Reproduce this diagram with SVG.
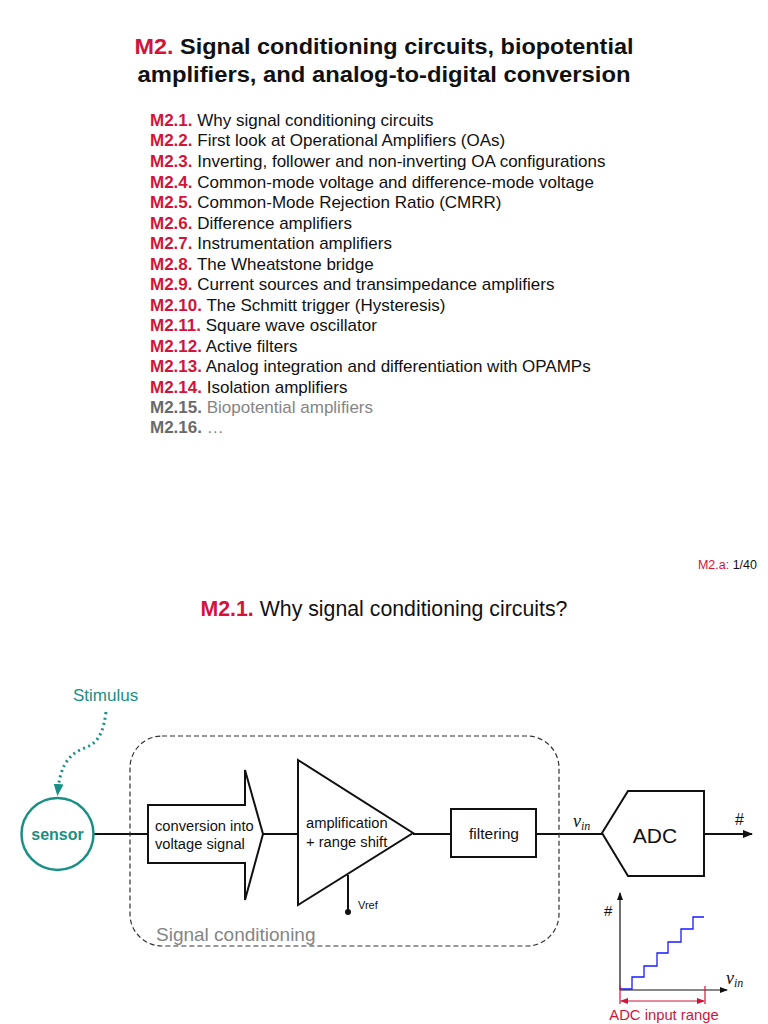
<svg xmlns="http://www.w3.org/2000/svg" width="768" height="1024" viewBox="0 0 768 1024">
<style>
text{font-family:"Liberation Sans",Arial,sans-serif;fill:#111}
.r{fill:#d2143a}
.g{fill:#858585}
.t{fill:#1a8f86}
.li{font-size:17px}
.b{font-weight:bold}
.sh{fill:#fff;stroke:#111;stroke-width:2}
.ln{stroke:#111;stroke-width:2;fill:none}
.vi{font-family:"Liberation Serif","Times New Roman",serif;font-style:italic}
</style>
<defs>
<marker id="ah" markerWidth="10" markerHeight="10" refX="9" refY="5" orient="auto" markerUnits="userSpaceOnUse"><path d="M0,1 L10,5 L0,9 Z" fill="#111"/></marker>
<marker id="ahs" markerWidth="8" markerHeight="8" refX="7" refY="4" orient="auto" markerUnits="userSpaceOnUse"><path d="M0,1 L8,4 L0,7 Z" fill="#111"/></marker>
<marker id="aht" markerWidth="12" markerHeight="12" refX="6" refY="6" orient="auto" markerUnits="userSpaceOnUse"><path d="M0,1 L12,6 L0,11 Z" fill="#1a8f86"/></marker>
<marker id="ahr" markerWidth="8" markerHeight="8" refX="7" refY="4" orient="auto-start-reverse" markerUnits="userSpaceOnUse"><path d="M0,1 L8,4 L0,7 Z" fill="#d2143a"/></marker>
</defs>
<rect width="768" height="1024" fill="#fff"/>
<g id="title">
<text x="384" y="54" text-anchor="middle" font-size="22.5" class="b" textLength="499" lengthAdjust="spacingAndGlyphs"><tspan class="r">M2.</tspan> Signal conditioning circuits, biopotential</text>
<text x="384" y="82" text-anchor="middle" font-size="22.5" class="b" textLength="493" lengthAdjust="spacingAndGlyphs">amplifiers, and analog-to-digital conversion</text>
</g>
<g id="list" class="li">
<text x="150" y="126"><tspan class="r b">M2.1.</tspan> Why signal conditioning circuits</text>
<text x="150" y="146"><tspan class="r b">M2.2.</tspan> First look at Operational Amplifiers (OAs)</text>
<text x="150" y="167"><tspan class="r b">M2.3.</tspan> Inverting, follower and non-inverting OA configurations</text>
<text x="150" y="188"><tspan class="r b">M2.4.</tspan> Common-mode voltage and difference-mode voltage</text>
<text x="150" y="208"><tspan class="r b">M2.5.</tspan> Common-Mode Rejection Ratio (CMRR)</text>
<text x="150" y="229"><tspan class="r b">M2.6.</tspan> Difference amplifiers</text>
<text x="150" y="249"><tspan class="r b">M2.7.</tspan> Instrumentation amplifiers</text>
<text x="150" y="270"><tspan class="r b">M2.8.</tspan> The Wheatstone bridge</text>
<text x="150" y="290"><tspan class="r b">M2.9.</tspan> Current sources and transimpedance amplifiers</text>
<text x="150" y="311"><tspan class="r b">M2.10.</tspan> The Schmitt trigger (Hysteresis)</text>
<text x="150" y="331"><tspan class="r b">M2.11.</tspan> Square wave oscillator</text>
<text x="150" y="352"><tspan class="r b">M2.12.</tspan> Active filters</text>
<text x="150" y="372"><tspan class="r b">M2.13.</tspan> Analog integration and differentiation with OPAMPs</text>
<text x="150" y="393"><tspan class="r b">M2.14.</tspan> Isolation amplifiers</text>
<text x="150" y="413" class="g"><tspan class="b" fill="#6a6a6a">M2.15.</tspan> Biopotential amplifiers</text>
<text x="150" y="433" class="g"><tspan class="b" fill="#6a6a6a">M2.16.</tspan> …</text>
</g>
<text x="757" y="569" text-anchor="end" font-size="12.5"><tspan class="r">M2.a:</tspan> 1/40</text>
<text x="384" y="616" text-anchor="middle" font-size="21.3"><tspan class="r b">M2.1.</tspan> Why signal conditioning circuits?</text>

<g id="connectors">
<path d="M106,712 C102,745 90,745 80,750 C66,757 60,770 58,790" fill="none" stroke="#1a8f86" stroke-width="3" stroke-dasharray="2,3.5" marker-end="url(#aht)"/>
<line x1="94" y1="834" x2="148" y2="834" class="ln"/>
<line x1="263" y1="834" x2="298" y2="834" class="ln"/>
<line x1="413" y1="834" x2="450" y2="834" class="ln"/>
<line x1="536" y1="834" x2="602" y2="834" class="ln"/>
<line x1="704" y1="834" x2="752" y2="834" class="ln" marker-end="url(#ah)"/>
<line x1="348" y1="875" x2="348" y2="912" class="ln"/>
<circle cx="348" cy="912" r="3" fill="#111"/>
</g>

<g id="group-signal-conditioning">
<rect x="130" y="736" width="429" height="210" rx="32" fill="none" stroke="#333" stroke-width="1.2" stroke-dasharray="5,3"/>
<text x="156" y="941" font-size="19" class="g">Signal conditioning</text>
</g>

<g id="stimulus"><text x="73" y="701" font-size="17" class="t">Stimulus</text></g>

<g id="sensor">
<circle cx="57.5" cy="834" r="36" fill="#fff" stroke="#1a8f86" stroke-width="2.5"/>
<text x="57.5" y="840" text-anchor="middle" font-size="16" class="t b">sensor</text>
</g>

<g id="conversion">
<path d="M148,805 L245,805 L245,770 L263,834 L245,900 L245,863 L148,863 Z" class="sh"/>
<text x="155" y="831" font-size="14.7">conversion into</text>
<text x="155" y="849" font-size="14.7">voltage signal</text>
</g>

<g id="amplification">
<path d="M298,760 L413,833 L298,905 Z" class="sh"/>
<text x="306" y="828" font-size="14.7">amplification</text>
<text x="306" y="847" font-size="14.7">+ range shift</text>
<text x="358" y="909" font-size="11">Vref</text>
</g>

<g id="filtering">
<rect x="451" y="809" width="85" height="48" class="sh"/>
<text x="494" y="839" text-anchor="middle" font-size="15.5">filtering</text>
</g>

<g id="adc">
<path d="M602,833 L628,791 L704,791 L704,876 L628,876 Z" class="sh"/>
<text x="655" y="843" text-anchor="middle" font-size="21">ADC</text>
<text x="573" y="827" font-size="18" class="vi">v<tspan font-size="12" dy="3">in</tspan></text>
<text x="735" y="825" font-size="16">#</text>
</g>

<g id="adc-graph">
<line x1="620" y1="990" x2="620" y2="893" stroke="#111" stroke-width="1.2" marker-end="url(#ahs)"/>
<line x1="620" y1="990" x2="727" y2="990" stroke="#111" stroke-width="1.2" marker-end="url(#ahs)"/>
<text x="604" y="916" font-size="15">#</text>
<text x="726" y="984" font-size="18" class="vi">v<tspan font-size="12" dy="3">in</tspan></text>
<path d="M620,989 H632 V977 H644 V966 H657 V953 H668 V942 H681 V929 H693 V917 H704" fill="none" stroke="#1a1aff" stroke-width="1.3"/>
<line x1="620" y1="986" x2="620" y2="1004" stroke="#d2143a" stroke-width="1.2"/>
<line x1="705" y1="986" x2="705" y2="1004" stroke="#d2143a" stroke-width="1.2"/>
<line x1="621" y1="1001" x2="704" y2="1001" stroke="#d2143a" stroke-width="1.2" marker-start="url(#ahr)" marker-end="url(#ahr)"/>
<text x="664" y="1020" text-anchor="middle" font-size="14.8" class="r">ADC input range</text>
</g>
</svg>
